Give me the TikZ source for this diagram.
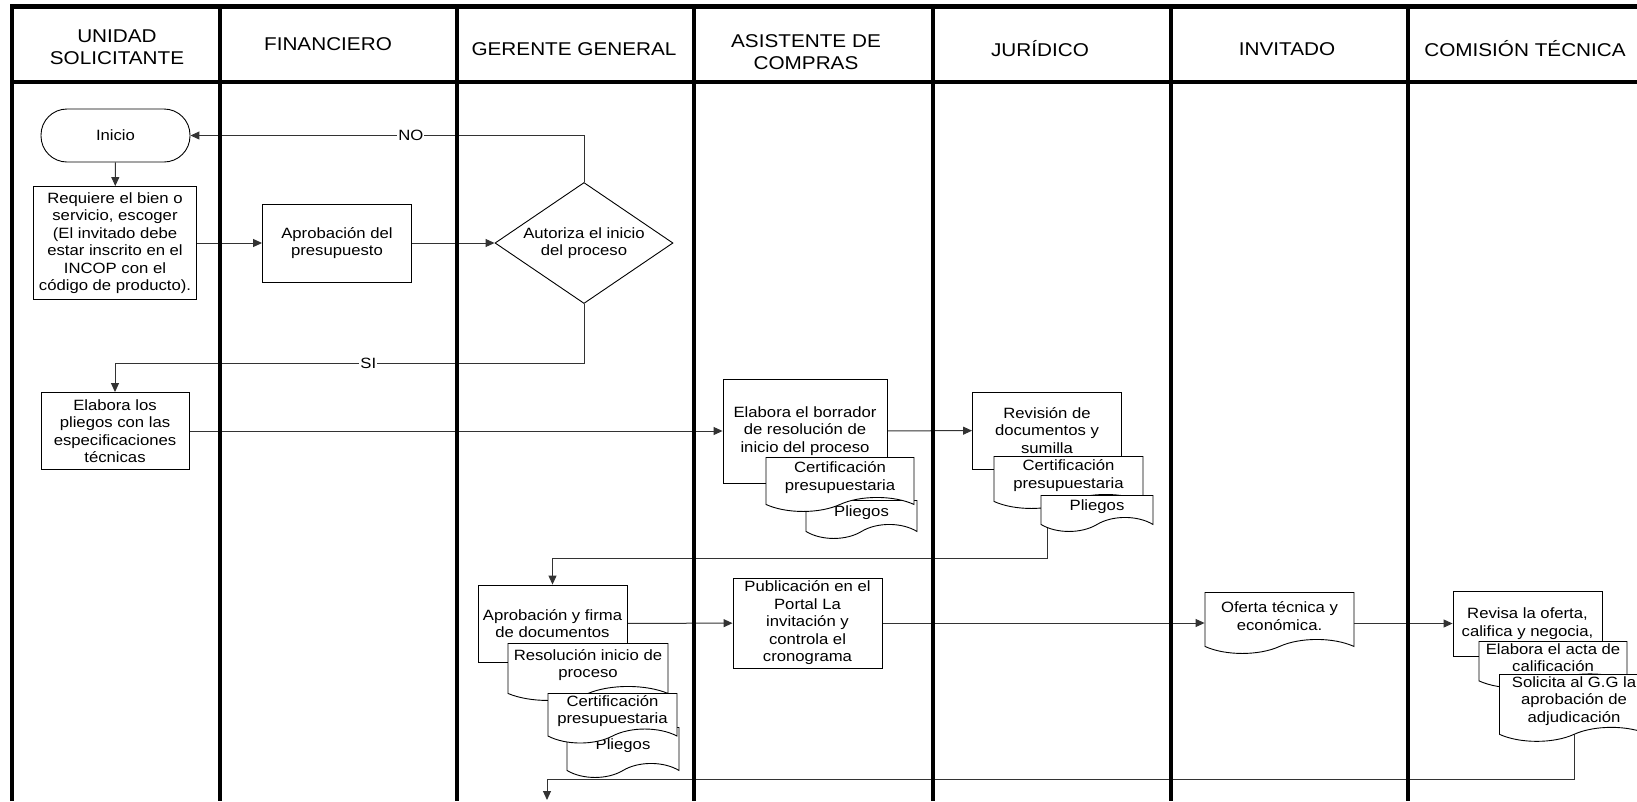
\documentclass[tikz,border=0pt]{standalone}
\usepackage{fontspec}
\setmainfont{Liberation Sans}[FakeStretch=1.12]
\usetikzlibrary{arrows.meta,shapes.geometric,shapes.symbols,backgrounds}

\newcommand{\flowfont}{\fontsize{14.9}{17.5}\selectfont}
\newcommand{\lanefont}{\fontsize{18.5}{22}\selectfont}

\begin{document}
\begin{tikzpicture}[
  x=1pt, y=-1pt,
  lane/.style={line width=4.5pt, line join=miter},
  lanehead/.style={align=center, font=\lanefont},
  proc/.style={draw, fill=white, line width=0.9pt, align=center,
               font=\flowfont, inner sep=2pt},
  term/.style={proc, rounded corners=26pt},
  decision/.style={proc, diamond, inner sep=0pt},
  doc/.style={proc, tape, tape bend top=none, tape bend height=14pt,
              anchor=north},
  flow/.style={draw=black!80, line width=1pt,
               -{Triangle[length=9pt,width=8pt]}},
  tag/.style={fill=white, font=\flowfont, inner sep=1pt}
]
\useasboundingbox (0,0) rectangle (1637,801);

% lanes
\draw[lane] (12,801) -- (12,6.5) -- (1637,6.5);
\draw[lane] (12,82) -- (1637,82);
\foreach \x in {220,457,694,933,1171,1408}
  \draw[lane] (\x,6.5) -- (\x,801);

\node[lanehead] (hUnidad) at (117,47) {UNIDAD\\SOLICITANTE};
\node[lanehead] (hFin) at (328,44) {FINANCIERO};
\node[lanehead] (hGer) at (574,49) {GERENTE GENERAL};
\node[lanehead] (hAsis) at (806,52) {ASISTENTE DE\\COMPRAS};
\node[lanehead] (hJur) at (1040,49) {JURÍDICO};
\node[lanehead] (hInv) at (1287,49) {INVITADO};
\node[lanehead] (hCom) at (1525,49) {COMISIÓN TÉCNICA};

% unidad solicitante / financiero / gerente
\node[term, minimum width=149pt, minimum height=53pt] (inicio) at (115.5,135.5) {Inicio};
\node[proc, minimum width=163pt, minimum height=113pt] (requiere) at (115,243)
  {Requiere el bien o\\servicio, escoger\\(El invitado debe\\estar inscrito en el\\INCOP con el\\código de producto).};
\node[proc, minimum width=149pt, minimum height=78pt] (presupuesto) at (337,243) {Aprobación del\\presupuesto};
\node[decision, minimum width=178pt, minimum height=121pt, aspect=1.47] (autoriza) at (584,243)
  {Autoriza el inicio\\del proceso};
\node[proc, minimum width=148pt, minimum height=77pt] (pliegos) at (115,431)
  {Elabora los\\pliegos con las\\especificaciones\\técnicas};

% asistente de compras
\node[proc, minimum width=164pt, minimum height=104pt] (borrador) at (805,431)
  {Elabora el borrador\\de resolución de\\inicio del proceso};
\node[doc, minimum width=111pt, minimum height=38pt] (plAsis) at (861.5,500) {Pliegos};
\node[doc, minimum width=148pt, minimum height=54pt] (certAsis) at (840,457) {Certificación\\presupuestaria};

% juridico
\node[proc, minimum width=149pt, minimum height=77pt] (revision) at (1047,430.5)
  {Revisión de\\documentos y\\sumilla};
\node[doc, minimum width=149pt, minimum height=52pt] (certJur) at (1068.5,456) {Certificación\\presupuestaria};
\node[doc, minimum width=112pt, minimum height=36pt] (plJur) at (1097,495) {Pliegos};

% gerente, segunda vuelta
\node[proc, minimum width=149pt, minimum height=77pt] (firma) at (552.5,623.5)
  {Aprobación y firma\\de documentos};
\node[doc, minimum width=160pt, minimum height=57pt] (resol) at (588,643) {Resolución inicio de\\proceso};
\node[doc, minimum width=112pt, minimum height=50pt] (plGer) at (623,727) {Pliegos};
\node[doc, minimum width=129pt] (certGer) at (612.5,693) {Certificación\\presupuestaria};

\node[proc, minimum width=149pt, minimum height=90pt] (publicacion) at (807.5,623)
  {Publicación en el\\Portal La\\invitación y\\controla el\\cronograma};

% invitado / comision tecnica
\node[doc, minimum width=149pt, minimum height=61pt] (oferta) at (1279.5,592)
  {Oferta técnica y\\económica.};
\node[proc, minimum width=149pt, minimum height=65pt] (revisa) at (1527.5,623.5)
  {Revisa la oferta,\\califica y negocia,};
\node[doc, minimum width=148pt] (acta) at (1553,641) {Elabora el acta de\\calificación};
\node[doc, minimum width=149pt, minimum height=66pt] (solicita) at (1574,674)
  {Solicita al G.G la\\aprobación de\\adjudicación};

\coordinate (siGiro) at (115,363);
\coordinate (firmaGiro) at (552.5,558);
\coordinate (finGiro) at (547,779);
\coordinate (fin) at (547,800);

\begin{scope}[on background layer]
\draw[flow] (inicio) -- (requiere);
\draw[flow] (requiere) -- (presupuesto);
\draw[flow] (presupuesto) -- (autoriza);
\draw[flow] (autoriza.north) |- node[tag, pos=0.72] {NO} (inicio.east);
\draw[flow] (autoriza.south) |- node[tag, pos=0.73] {SI} (siGiro) -- (pliegos);
\draw[flow] (pliegos) -- (borrador);
\draw[flow] (borrador) -- (revision);
\draw[flow] (revision.south) |- (firmaGiro) -- (firma);
\draw[flow] (firma) -- (publicacion);
\draw[flow] (publicacion.east) -- (publicacion.east -| oferta.west);
\draw[flow] (revisa.west -| oferta.east) -- (revisa.west);
\draw[flow] (solicita.south) |- (finGiro) -- (fin);
\end{scope}
\end{tikzpicture}
\end{document}
